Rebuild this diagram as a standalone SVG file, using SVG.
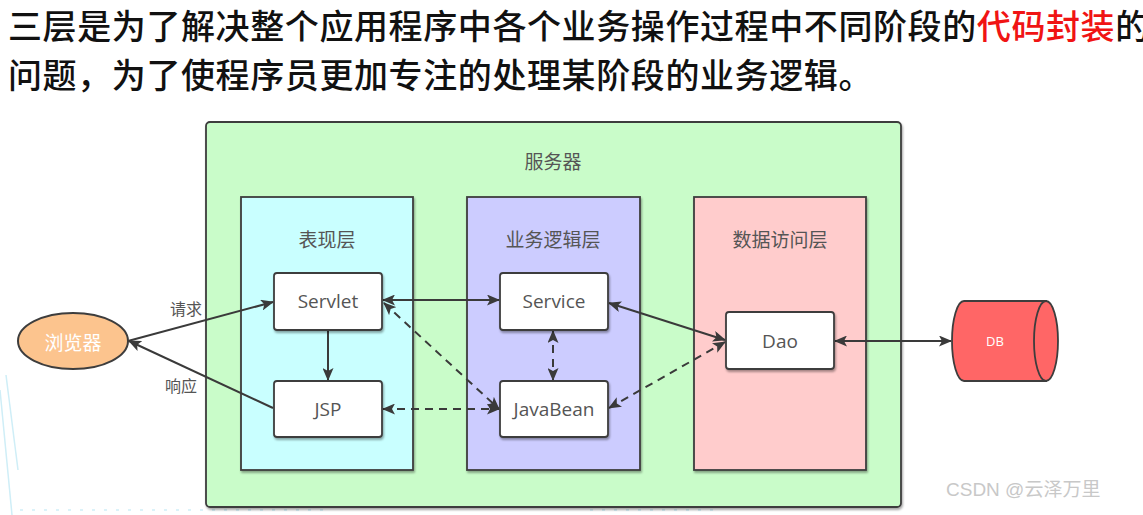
<svg xmlns="http://www.w3.org/2000/svg" width="1143" height="515" viewBox="0 0 1143 515">
<defs>
<marker id="ah" viewBox="0 0 13 11" refX="12" refY="5.5" markerWidth="13" markerHeight="11" markerUnits="userSpaceOnUse" orient="auto-start-reverse">
<path d="M0,0 L13,5.5 L0,11 L3,5.5 Z" fill="#3a3a3a"/>
</marker>
<filter id="sh" x="-5%" y="-5%" width="110%" height="115%">
<feDropShadow dx="1" dy="2" stdDeviation="1" flood-color="#000" flood-opacity="0.35"/>
</filter>
</defs>
<style>
.hd{font-family:"Noto Sans CJK SC","Noto Sans",sans-serif;font-size:34px;font-weight:500;letter-spacing:0.6px;fill:#111}
.lbl{font-family:"Noto Sans CJK SC","Noto Sans",sans-serif;font-size:19px;fill:#555;text-anchor:middle;dominant-baseline:central}
.nt{font-family:"Open Sans","Noto Sans","Noto Sans CJK SC",sans-serif;font-size:19px;fill:#555;text-anchor:middle;dominant-baseline:central}
.box{stroke:#3d3d3d;stroke-width:1.8}
.node{fill:#fff;stroke:#3d3d3d;stroke-width:1.8}
.c{fill:none;stroke:#3a3a3a;stroke-width:2}
.d{stroke-dasharray:8 6}
</style>
<rect width="1143" height="515" fill="#fff"/>
<g id="bgdeco" stroke="#cfeef7" stroke-width="1.5" fill="none">
<path d="M0,390 L12,515"/><path d="M6,375 L18,470"/>
<path d="M20,510 L330,510" stroke-dasharray="3 9"/>
<path d="M590,510 L720,510" stroke-dasharray="3 9"/>
</g>
<g id="header">
<text class="hd" x="8" y="39">三层是为了解决整个应用程序中各个业务操作过程中不同阶段的<tspan fill="#f01414">代码封装</tspan>的</text>
<text class="hd" x="8" y="88">问题，为了使程序员更加专注的处理某阶段的业务逻辑。</text>
</g>
<g id="server">
<rect class="box" x="206" y="122" width="695" height="385" rx="4" fill="#c9fcc9" filter="url(#sh)"/>
<text class="lbl" x="553" y="160">服务器</text>
</g>
<g id="layer-presentation">
<rect class="box" x="241" y="197" width="172" height="273" fill="#c9ffff" filter="url(#sh)"/>
<text class="lbl" x="327" y="238">表现层</text>
</g>
<g id="layer-business">
<rect class="box" x="467" y="197" width="173" height="273" fill="#ccccff" filter="url(#sh)"/>
<text class="lbl" x="553" y="238">业务逻辑层</text>
</g>
<g id="layer-data">
<rect class="box" x="694" y="197" width="172" height="273" fill="#ffcccc" filter="url(#sh)"/>
<text class="lbl" x="780" y="238">数据访问层</text>
</g>
<g id="connectors">
<line class="c" x1="128" y1="341" x2="273" y2="302" marker-end="url(#ah)"/>
<line class="c" x1="273" y1="408" x2="129" y2="341" marker-end="url(#ah)"/>
<line class="c" x1="328" y1="331" x2="328" y2="380" marker-end="url(#ah)"/>
<line class="c" x1="383" y1="300" x2="499" y2="300" marker-start="url(#ah)" marker-end="url(#ah)"/>
<line class="c d" x1="384" y1="303" x2="499" y2="409" marker-start="url(#ah)" marker-end="url(#ah)"/>
<line class="c d" x1="383" y1="409" x2="499" y2="409" marker-start="url(#ah)" marker-end="url(#ah)"/>
<line class="c d" x1="553" y1="331" x2="553" y2="380" marker-start="url(#ah)" marker-end="url(#ah)"/>
<line class="c" x1="609" y1="303" x2="725" y2="340" marker-start="url(#ah)" marker-end="url(#ah)"/>
<line class="c d" x1="609" y1="408" x2="725" y2="342" marker-start="url(#ah)" marker-end="url(#ah)"/>
<line class="c" x1="835" y1="341" x2="951" y2="341" marker-start="url(#ah)" marker-end="url(#ah)"/>
<text class="lbl" x="186" y="308" font-size="16" style="font-size:16px">请求</text>
<text class="lbl" x="181" y="385" font-size="16" style="font-size:16px">响应</text>
</g>
<g id="browser">
<ellipse cx="73" cy="341" rx="55" ry="28" fill="#fcc48e" stroke="#3d3d3d" stroke-width="2"/>
<text class="lbl" x="73" y="341" style="fill:#fff">浏览器</text>
</g>
<g id="servlet">
<rect class="node" x="274" y="273" width="108" height="57" rx="3" filter="url(#sh)"/>
<text class="nt" x="328" y="301">Servlet</text>
</g>
<g id="jsp">
<rect class="node" x="274" y="381" width="108" height="56" rx="3" filter="url(#sh)"/>
<text class="nt" x="328" y="409">JSP</text>
</g>
<g id="service">
<rect class="node" x="500" y="273" width="108" height="57" rx="3" filter="url(#sh)"/>
<text class="nt" x="554" y="301">Service</text>
</g>
<g id="javabean">
<rect class="node" x="500" y="381" width="108" height="56" rx="3" filter="url(#sh)"/>
<text class="nt" x="554" y="409">JavaBean</text>
</g>
<g id="dao">
<rect class="node" x="726" y="312" width="108" height="57" rx="3" filter="url(#sh)"/>
<text class="nt" x="780" y="341">Dao</text>
</g>
<g id="db">
<path d="M1046,301 L964,301 A12,40 0 0 0 964,381 L1046,381 Z" fill="#ff6666" stroke="#3d3d3d" stroke-width="1.8"/>
<ellipse cx="1046" cy="341" rx="12" ry="40" fill="#ff6666" stroke="#3d3d3d" stroke-width="1.8"/>
<text class="nt" x="995" y="341" style="fill:#fff;font-size:13px">DB</text>
</g>
<g id="watermark">
<text x="946" y="496" font-family="'Liberation Sans','Noto Sans CJK SC',sans-serif" font-size="19" fill="#c8c8c8">CSDN @云泽万里</text>
</g>
</svg>
